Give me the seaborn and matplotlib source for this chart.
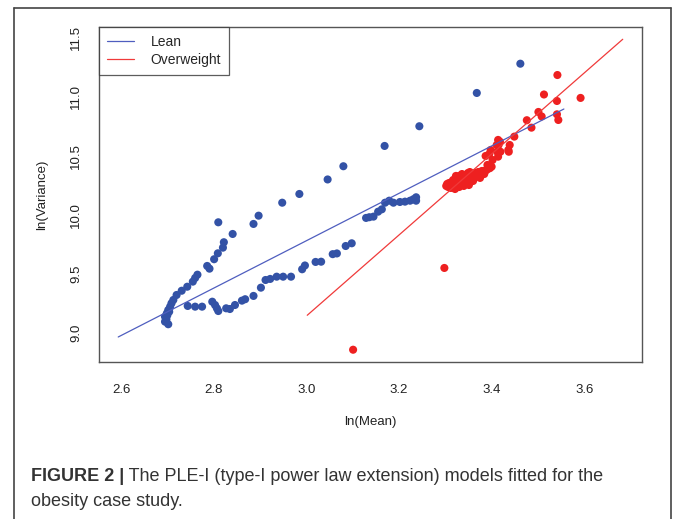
import matplotlib
matplotlib.use("Agg")
import matplotlib.pyplot as plt
import seaborn as sns
import pandas as pd
from matplotlib.lines import Line2D

# ---------------- data ----------------
lean_x = [2.695, 2.702, 2.695, 2.699, 2.702, 2.706, 2.709, 2.713, 2.720, 2.731,
          2.743, 2.755, 2.760, 2.765, 2.786, 2.791, 2.801, 2.809, 2.820, 2.822,
          2.810, 2.841, 2.886, 2.897, 2.948, 2.985, 3.046, 3.080, 3.169, 3.244,
          3.368, 3.462,
          2.744, 2.760, 2.775, 2.797, 2.803, 2.807, 2.810, 2.827, 2.835, 2.846,
          2.861, 2.868, 2.886, 2.902, 2.912, 2.922, 2.936, 2.950, 2.967, 2.991,
          2.997, 3.020, 3.032, 3.057, 3.066, 3.085, 3.098, 3.129, 3.136, 3.145,
          3.155, 3.163, 3.170, 3.179, 3.188, 3.202, 3.213, 3.224, 3.231, 3.237,
          3.237, 2.698, 2.700, 2.704]
lean_y = [9.096, 9.074, 9.138, 9.167, 9.195, 9.223, 9.252, 9.280, 9.322, 9.358,
          9.392, 9.435, 9.466, 9.494, 9.568, 9.545, 9.625, 9.675, 9.723, 9.769,
          9.938, 9.839, 9.924, 9.994, 10.104, 10.178, 10.301, 10.413, 10.585, 10.752,
          11.034, 11.282,
          9.229, 9.223, 9.223, 9.265, 9.237, 9.209, 9.186, 9.209, 9.203, 9.237,
          9.274, 9.286, 9.314, 9.384, 9.449, 9.458, 9.477, 9.477, 9.477, 9.540,
          9.572, 9.602, 9.604, 9.668, 9.674, 9.737, 9.760, 9.975, 9.981, 9.986,
          10.028, 10.048, 10.104, 10.121, 10.104, 10.110, 10.113, 10.121, 10.133, 10.150,
          10.121, 9.115, 9.150, 9.180]

over_x = [3.542, 3.513, 3.592, 3.541, 3.501, 3.508, 3.541, 3.544, 3.476, 3.486,
          3.449, 3.414, 3.415, 3.439, 3.437, 3.398, 3.387, 3.412, 3.419, 3.414,
          3.402, 3.400, 3.396, 3.389, 3.379, 3.368, 3.353, 3.346, 3.411, 3.418,
          3.436, 3.395, 3.391, 3.298, 3.101,
          3.302, 3.304, 3.306, 3.308, 3.310, 3.312, 3.314, 3.317, 3.319, 3.321,
          3.323, 3.325, 3.327, 3.330, 3.332, 3.334, 3.336, 3.338, 3.340, 3.342,
          3.345, 3.347, 3.349, 3.351, 3.353, 3.355, 3.358, 3.360, 3.362, 3.364,
          3.366, 3.371, 3.373, 3.375, 3.379, 3.384, 3.388, 3.323, 3.330, 3.336,
          3.349, 3.327, 3.317, 3.353]
over_y = [11.186, 11.021, 10.992, 10.966, 10.873, 10.835, 10.853, 10.805, 10.803, 10.740,
          10.664, 10.636, 10.593, 10.593, 10.536, 10.551, 10.500, 10.536, 10.536, 10.494,
          10.466, 10.409, 10.396, 10.381, 10.367, 10.353, 10.339, 10.325, 10.593, 10.621,
          10.551, 10.517, 10.424, 9.551, 8.858,
          10.246, 10.263, 10.237, 10.271, 10.254, 10.229, 10.280, 10.263, 10.246, 10.220,
          10.288, 10.271, 10.254, 10.237, 10.297, 10.314, 10.280, 10.263, 10.246, 10.331,
          10.305, 10.288, 10.271, 10.254, 10.347, 10.322, 10.305, 10.288, 10.339, 10.356,
          10.322, 10.364, 10.339, 10.314, 10.373, 10.347, 10.381, 10.331, 10.331, 10.347,
          10.356, 10.314, 10.297, 10.364]

lean_fit_x = [2.594, 3.556]
lean_fit_y = [8.966, 10.898]
over_fit_x = [3.002, 3.683]
over_fit_y = [9.150, 11.489]

x_ticks = [2.6, 2.8, 3.0, 3.2, 3.4, 3.6]
y_ticks = [9.0, 9.5, 10.0, 10.5, 11.0, 11.5]
series_names = ["Lean", "Overweight"]
x_label = "ln(Mean)"
y_label = "ln(Variance)"
caption_bold = "FIGURE 2 |"
caption_rest = " The PLE-I (type-I power law extension) models fitted for the"
caption_line2 = "obesity case study."

# ---------------- style ----------------
sns.set_style("white")
plt.rcParams["font.family"] = ["Liberation Sans", "DejaVu Sans"]

BLUE_PT = "#3352A6"
RED_PT = "#EE2020"
BLUE_LN = "#4F5EBF"
RED_LN = "#F03A3A"

W, H = 673, 519
fig = plt.figure(figsize=(W / 100, H / 100), dpi=100)
ax = fig.add_axes([99 / W, (H - 362) / H, 543 / W, 335 / H])

pts = pd.concat([
    pd.DataFrame({"x": lean_x, "y": lean_y, "group": series_names[0]}),
    pd.DataFrame({"x": over_x, "y": over_y, "group": series_names[1]}),
])
sns.scatterplot(data=pts, x="x", y="y", hue="group",
                palette={series_names[0]: BLUE_PT, series_names[1]: RED_PT},
                s=34, linewidth=0, legend=False, ax=ax, zorder=2)

fits = pd.concat([
    pd.DataFrame({"x": lean_fit_x, "y": lean_fit_y, "group": series_names[0]}),
    pd.DataFrame({"x": over_fit_x, "y": over_fit_y, "group": series_names[1]}),
])
sns.lineplot(data=fits, x="x", y="y", hue="group",
             palette={series_names[0]: BLUE_LN, series_names[1]: RED_LN},
             linewidth=0.9, legend=False, ax=ax, zorder=3, estimator=None, sort=False)

ax.set_xlim(2.5525, 3.7246)
ax.set_ylim(8.754, 11.593)
ax.set_xticks(x_ticks)
ax.set_xticklabels([f"{v:.1f}" for v in x_ticks])
ax.set_yticks(y_ticks)
ax.set_yticklabels([f"{v:.1f}" for v in y_ticks], rotation=90, va="center")
ax.tick_params(axis="both", direction="out", length=6.5, width=0.8, color="#444444",
               labelsize=9.5, labelcolor="#222222")
ax.tick_params(axis="x", pad=9)
ax.tick_params(axis="y", pad=5.5)
for sp in ax.spines.values():
    sp.set_color("#555555")
    sp.set_linewidth(1.0)
ax.set_xlabel(x_label, fontsize=9.5, color="#222222", labelpad=15)
ax.set_ylabel(y_label, fontsize=9.5, color="#222222", labelpad=16)

handles = [Line2D([0], [0], color=BLUE_LN, lw=0.9),
           Line2D([0], [0], color=RED_LN, lw=0.9)]
leg = ax.legend(handles, series_names, loc="upper left", fontsize=10,
                frameon=True, fancybox=False, borderaxespad=0,
                handlelength=1.9, handletextpad=1.2, borderpad=0.6,
                labelspacing=0.25)
leg.get_frame().set_edgecolor("#333333")
leg.get_frame().set_linewidth(0.9)

# outer frame (three sides)
frame_kw = dict(color="#444444", lw=1.2, transform=fig.transFigure)
fig.add_artist(Line2D([14 / W, 14 / W], [0, 1 - 8 / H], **frame_kw))
fig.add_artist(Line2D([14 / W, 671 / W], [1 - 8 / H, 1 - 8 / H], **frame_kw))
fig.add_artist(Line2D([671 / W, 671 / W], [0, 1 - 8 / H], **frame_kw))

# caption
cap_y1 = 1 - 481 / H
t1 = fig.text(31 / W, cap_y1, caption_bold, fontsize=13, fontweight="bold",
              color="#333333", va="baseline")
fig.canvas.draw()
bb = t1.get_window_extent()
fig.text(bb.x1 / W, cap_y1, caption_rest, fontsize=13, color="#333333", va="baseline")
fig.text(31 / W, 1 - 506 / H, caption_line2, fontsize=13, color="#333333", va="baseline")

fig.savefig("out.png", dpi=100)
